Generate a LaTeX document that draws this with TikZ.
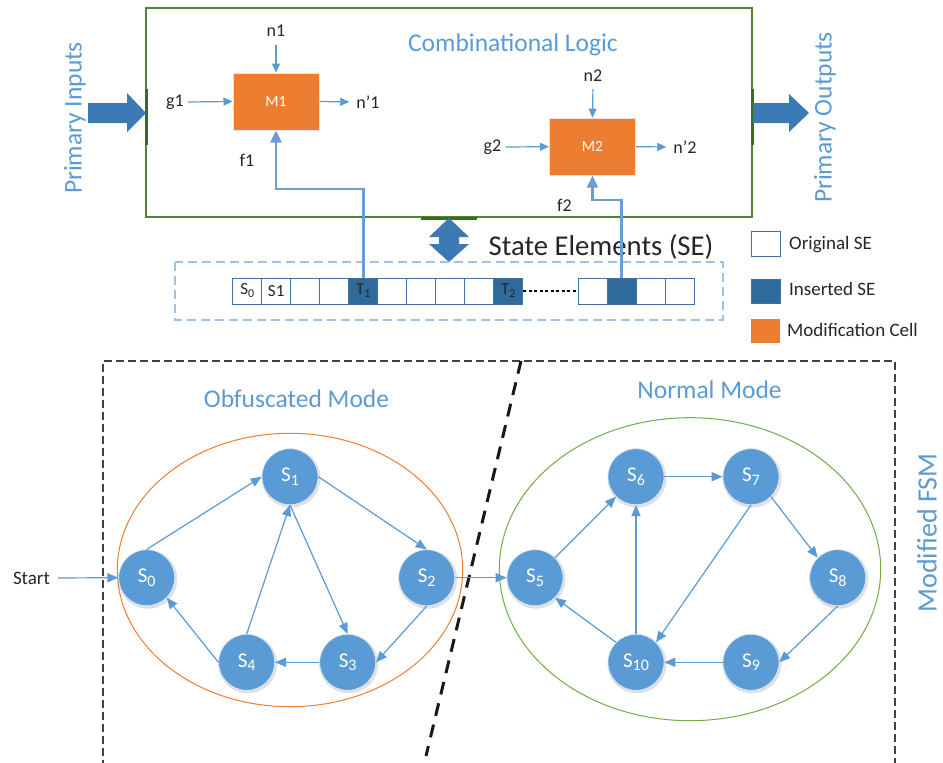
\documentclass[tikz,border=0pt]{standalone}
\usepackage{fontspec}
\setmainfont{Carlito}
\usetikzlibrary{arrows.meta}
\definecolor{accent}{HTML}{5B9BD5}
\definecolor{orng}{HTML}{ED7D31}
\definecolor{grn}{HTML}{548235}
\definecolor{dgrn}{HTML}{3B6B23}
\definecolor{lgrn}{HTML}{70AD47}
\definecolor{barrow}{HTML}{3C7AB5}
\definecolor{fcol}{HTML}{6D9CD3}
\definecolor{cellb}{HTML}{41719C}
\definecolor{cellf}{HTML}{2E6A9C}
\definecolor{dashb}{HTML}{9DC3E6}
\definecolor{txt}{HTML}{262626}
\definecolor{boxgray}{HTML}{404040}
\newcommand\fs[1]{\fontsize{#1}{#1}\selectfont}
\newcommand\stsub[1]{\raisebox{-3.5pt}{\fontsize{16}{16}\selectfont #1}}
\newcommand\cellsub[1]{\raisebox{-3pt}{\fontsize{12}{12}\selectfont #1}}
\tikzset{
  fsmstate/.style={circle, fill=accent, draw=white!80!accent, line width=0.6pt, inner sep=0pt, minimum size=56pt, text=white, font=\fs{21}},
  stshadow/.style={circle, fill=black, opacity=0.12, inner sep=0pt, minimum size=59pt},
  arr/.style={draw=accent, line width=1.2pt, -{Triangle[length=11pt,width=9pt]}},
  sarr/.style={draw=accent, line width=1.2pt, -{Triangle[length=9pt,width=8pt]}},
  fconn/.style={draw=fcol, line width=2.8pt, -{Triangle[length=12pt,width=11pt]}},
  mbox/.style={rectangle, fill=orng, draw=white!80!gray, line width=1pt, minimum width=86pt, minimum height=57pt, text=white, font=\fs{15.5}},
  lbl/.style={text=txt, font=\fs{18}, inner sep=2pt},
  blbl/.style={text=accent, font=\fs{25.5}},
  secell/.style={rectangle, draw=cellb, fill=white, line width=1pt, minimum width=29pt, minimum height=26pt, inner sep=0pt, text=txt, font=\fs{17}},
  icell/.style={secell, fill=cellf},
  legtxt/.style={text=txt, font=\fs{19}, anchor=west, inner sep=2pt},
  blockarrow/.style={fill=barrow, draw=none}
}
\begin{document}
\begin{tikzpicture}[x=1pt,y=-1pt]
\clip (0,0) rectangle (943,763);
\fill[white] (0,0) rectangle (943,763);

% ---------- Combinational logic box ----------
\draw[grn, line width=2pt] (146,8) rectangle (752,217);
\draw[dgrn, line width=3pt] (146,89) -- (146,145);
\draw[dgrn, line width=3pt] (752,89) -- (752,145);
\draw[dgrn, line width=3pt] (421,218) -- (477,218);
\node[blbl] (cl) at (513,45) {Combinational Logic};

% primary in/out block arrows
\fill[blockarrow] (88,103) -- (127,103) -- (127,93) -- (146,113) -- (127,132) -- (127,123) -- (88,123) -- cycle;
\fill[blockarrow] (753,103) -- (789,103) -- (789,94) -- (809,113) -- (789,132) -- (789,123) -- (753,123) -- cycle;
\node[blbl, rotate=90] (pi) at (75,118) {Primary Inputs};
\node[blbl, rotate=90] (po) at (825,117.5) {Primary Outputs};

% modification cells
\node[mbox] (m1) at (276,101.5) {M1};
\node[mbox] (m2) at (592.5,146.7) {M2};

\node[lbl] (n1) at (276,31) {n1};
\node[lbl] (g1) at (175,102) {g1};
\node[lbl] (no1) at (368,102) {n’1};
\node[lbl] (f1) at (247,160) {f1};
\draw[sarr, shorten <=6pt] (n1.south) -- (m1.north);
\draw[sarr, shorten <=2pt] (g1.east) -- (m1.west);
\draw[sarr, shorten >=5pt] (m1.east) -- (no1.west);

\node[lbl] (n2) at (593,76) {n2};
\node[lbl] (g2) at (492.5,147) {g2};
\node[lbl] (no2) at (685,147) {n’2};
\node[lbl] (f2) at (564.5,205) {f2};
\draw[sarr, shorten <=5pt] (n2.south) -- (m2.north);
\draw[sarr, shorten <=2pt] (g2.east) -- (m2.west);
\draw[sarr, shorten >=5pt] (m2.east) -- (no2.west);

% ---------- State elements ----------
\fill[blockarrow] (449,218) -- (469,237) -- (459,237) -- (459,244) -- (469,244) -- (449,262)
  -- (429,244) -- (439,244) -- (439,237) -- (429,237) -- cycle;
\node[text=txt, font=\fs{28.7}] (selbl) at (601,247) {State Elements (SE)};
\draw[dashb, line width=1.5pt, dash pattern=on 9pt off 5pt] (175,262) rectangle (723,320);

\node[secell] (c0) at (247.2,291) {S\cellsub{0}};
\node[secell] (c1) at (276.2,291) {S1};
\node[secell] (c2) at (305.2,291) {};
\node[secell] (c3) at (334.2,291) {};
\node[icell] (t1) at (363.2,291) {T\cellsub{1}};
\node[secell] (c5) at (392.2,291) {};
\node[secell] (c6) at (421.2,291) {};
\node[secell] (c7) at (450.2,291) {};
\node[secell] (c8) at (479.2,291) {};
\node[icell] (t2) at (508.2,291) {T\cellsub{2}};
\node[secell] (c10) at (592.5,291) {};
\node[icell] (c11) at (621.5,291) {};
\node[secell] (c12) at (650.5,291) {};
\node[secell] (c13) at (679.5,291) {};
\draw[black, line width=1.5pt, dash pattern=on 3pt off 2.5pt] (t2.east) -- (c10.west);

\coordinate (f1turn) at (276,189);
\coordinate (f2turn) at (592.5,200);
\draw[fconn] (t1.north) |- (f1turn) -- (m1.south);
\draw[fconn] (c11.north) |- (f2turn) -- (m2.south);

% legend
\node[secell, minimum height=25pt] (lg1) at (765.5,244.2) {};
\node[icell, minimum height=24pt] (lg2) at (765.5,291) {};
\node[rectangle, fill=orng, minimum width=29pt, minimum height=24pt, inner sep=0pt] (lg3) at (765.5,330.5) {};
\node[legtxt] (lt1) at (787,245) {Original SE};
\node[legtxt] (lt2) at (787,289) {Inserted SE};
\node[legtxt] (lt3) at (785,330) {Modification Cell};

% ---------- Modified FSM ----------
\draw[boxgray, line width=1.1pt, dash pattern=on 8pt off 4pt] (103,780) -- (103,361) -- (895,361) -- (895,780);
\draw[black!90, line width=3pt, dash pattern=on 13pt off 9pt] (521,361) -- (426,756);
\node[blbl, rotate=90, font=\fs{28}, inner sep=1pt] (mfsm) at (927,533) {Modified FSM};
\node[blbl] (om) at (296.5,399) {Obfuscated Mode};
\node[blbl] (nm) at (709.5,390) {Normal Mode};

\draw[orng, line width=1pt] (290,570) ellipse [x radius=172.7, y radius=136.7];
\draw[lgrn, line width=1pt] (690,569.2) ellipse [x radius=190.7, y radius=151.5];

\foreach \px/\py [count=\k] in {146.7/577.7,290/476.7,426.7/577.7,347.7/662.3,246.7/662.3,535/577.7,636/476.7,751/476.7,837.7/577.7,751/662.3,636/662.3}
  \node[stshadow] (sh\k) at (\px+1,\py+1.5) {};

\node[fsmstate] (s0) at (146.7,577.7) {S\stsub{0}};
\node[fsmstate] (s1) at (290,476.7) {S\stsub{1}};
\node[fsmstate] (s2) at (426.7,577.7) {S\stsub{2}};
\node[fsmstate] (s3) at (347.7,662.3) {S\stsub{3}};
\node[fsmstate] (s4) at (246.7,662.3) {S\stsub{4}};
\node[fsmstate] (s5) at (535,577.7) {S\stsub{5}};
\node[fsmstate] (s6) at (636,476.7) {S\stsub{6}};
\node[fsmstate] (s7) at (751,476.7) {S\stsub{7}};
\node[fsmstate] (s8) at (837.7,577.7) {S\stsub{8}};
\node[fsmstate] (s9) at (751,662.3) {S\stsub{9}};
\node[fsmstate] (s10) at (636,662.3) {S\stsub{10}};

\node[lbl, font=\fs{19}] (start) at (31.5,578) {Start};
\draw[arr, shorten <=6pt] (start.east) -- (s0.west);

\draw[arr] (s0.north) -- (s1.west);
\draw[arr] (s1.east) -- (s2.north);
\draw[arr] (s1.south) -- (s3.north);
\draw[arr] (s2.south) -- (s3.east);
\draw[arr] (s3.west) -- (s4.east);
\draw[arr] (s4.west) -- (s0.-45);
\draw[arr] (s4.north) -- (s1.south);
\draw[arr] (s2.east) -- (s5.west);
\draw[arr] (s5.45) -- (s6.-135);
\draw[arr] (s6.east) -- (s7.west);
\draw[arr] (s7.-45) -- (s8.135);
\draw[arr] (s7.south) -- (s10.45);
\draw[arr] (s8.south) -- (s9.east);
\draw[arr] (s9.west) -- (s10.east);
\draw[arr] (s10.north) -- (s6.south);
\draw[arr] (s10.135) -- (s5.-45);
\end{tikzpicture}
\end{document}
